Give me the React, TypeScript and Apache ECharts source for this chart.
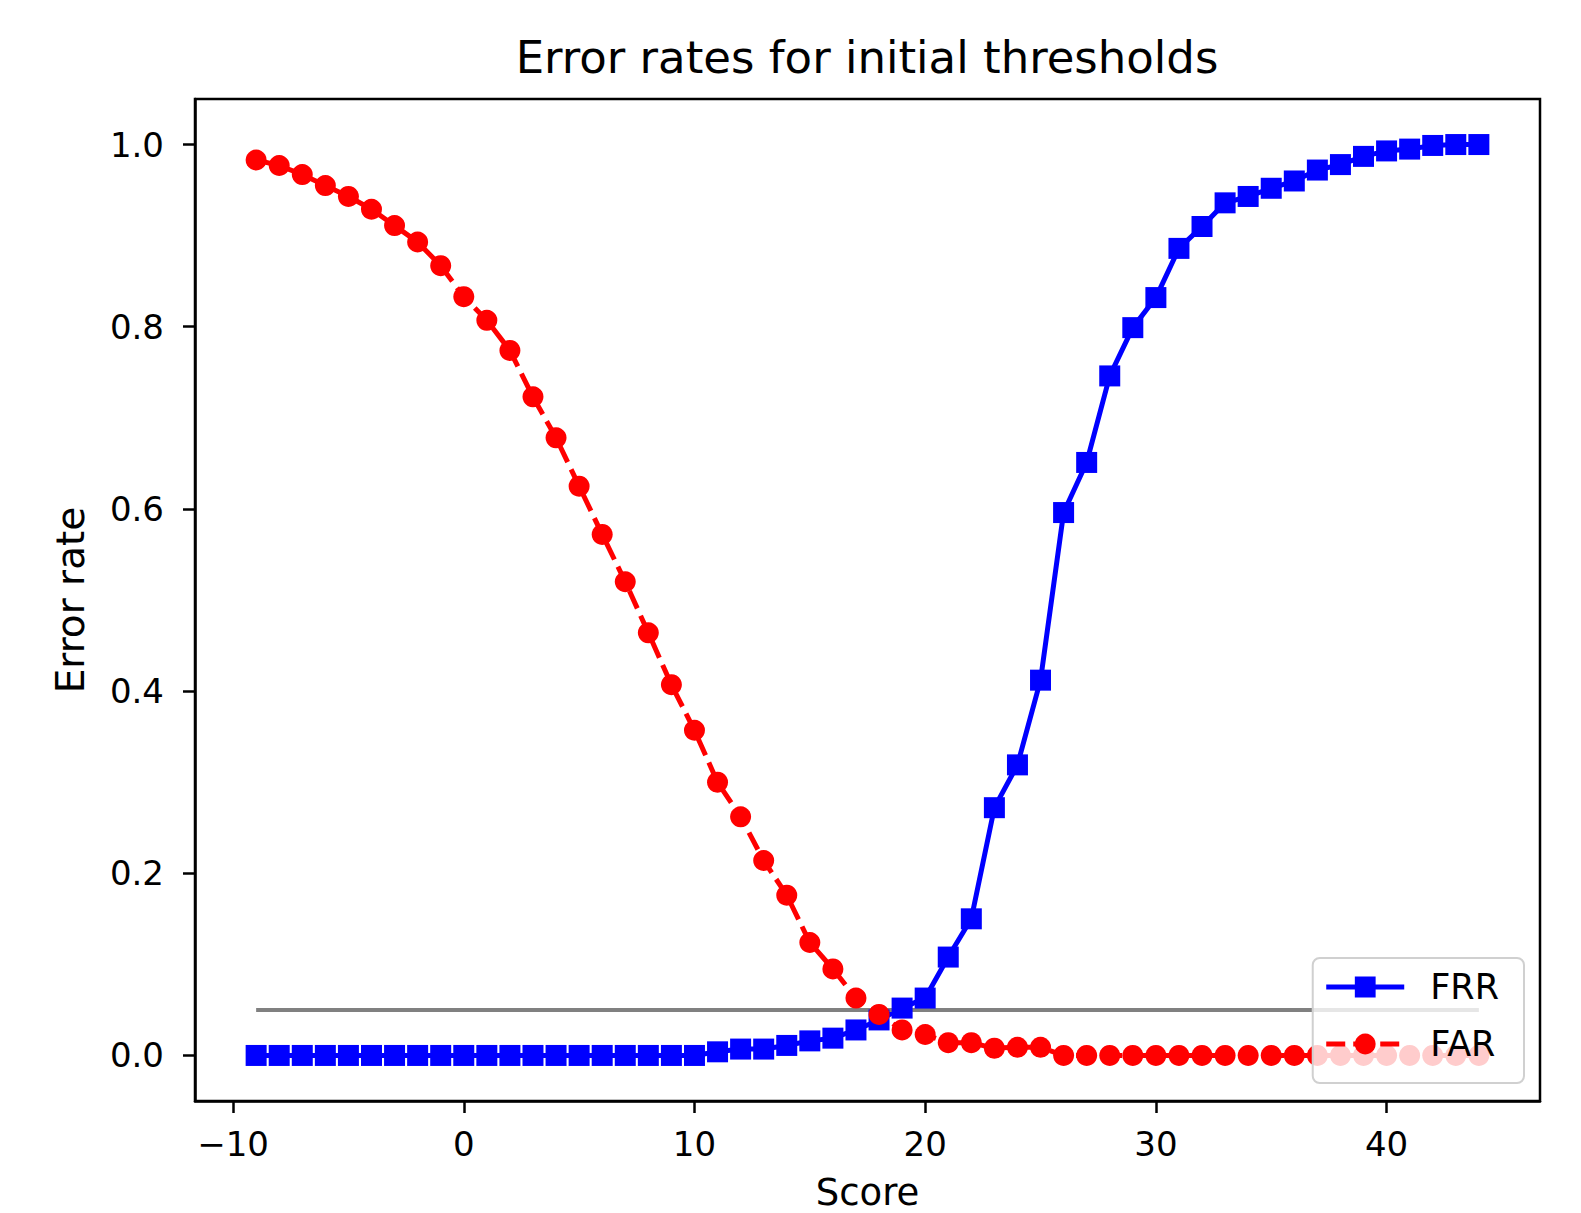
import React, { useEffect, useRef } from "react";
import * as echarts from "echarts";

const scores = [
  -9, -8, -7, -6, -5, -4, -3, -2, -1, 0, 1, 2, 3, 4, 5, 6, 7, 8, 9, 10, 11, 12,
  13, 14, 15, 16, 17, 18, 19, 20, 21, 22, 23, 24, 25, 26, 27, 28, 29, 30, 31,
  32, 33, 34, 35, 36, 37, 38, 39, 40, 41, 42, 43, 44,
];

const frr = [
  0, 0, 0, 0, 0, 0, 0, 0, 0, 0, 0, 0, 0, 0, 0, 0, 0, 0, 0, 0, 0.004, 0.007,
  0.007, 0.011, 0.016, 0.019, 0.028, 0.039, 0.052, 0.063, 0.108, 0.15, 0.272,
  0.319, 0.412, 0.596, 0.651, 0.746, 0.799, 0.832, 0.886, 0.91, 0.936, 0.943,
  0.952, 0.96, 0.972, 0.978, 0.987, 0.993, 0.995, 0.999, 1.0, 1.0,
];

const far = [
  0.983, 0.977, 0.967, 0.955, 0.943, 0.929, 0.911, 0.893, 0.867, 0.833, 0.807,
  0.774, 0.723, 0.678, 0.625, 0.572, 0.52, 0.464, 0.407, 0.357, 0.3, 0.262,
  0.214, 0.176, 0.124, 0.095, 0.063, 0.045, 0.028, 0.023, 0.014, 0.014, 0.008,
  0.009, 0.009, 0, 0, 0, 0, 0, 0, 0, 0, 0, 0, 0, 0, 0, 0, 0, 0, 0, 0, 0,
];

const thresholdValue = 0.05;
const thresholdRange = [-9, 44];

const xTicks = [-10, 0, 10, 20, 30, 40];
const yTicks = [0, 0.2, 0.4, 0.6, 0.8, 1.0];

const FONT = "DejaVu Sans";

export default function App() {
  const ref = useRef<HTMLDivElement>(null);

  useEffect(() => {
    if (!ref.current) return;
    const chart = echarts.init(ref.current, null, { renderer: "svg" });
    const option = {
      animation: false,
      backgroundColor: "#ffffff",
      title: {
        text: "Error rates for initial thresholds",
        left: 862,
        top: 30,
        textAlign: "center",
        textStyle: {
          fontFamily: FONT,
          fontSize: 45,
          fontWeight: "normal",
          color: "#000",
        },
      },
      grid: {
        left: 195,
        top: 99,
        width: 1345,
        height: 1002,
        show: true,
        borderColor: "#000",
        borderWidth: 2.5,
        backgroundColor: "transparent",
        containLabel: false,
        outerBoundsMode: "none",
      },
      legend: {
        data: ["FRR", "FAR"],
        orient: "vertical",
        right: 57,
        bottom: 130,
        backgroundColor: "rgba(255,255,255,0.8)",
        borderColor: "#d0d0d0",
        borderWidth: 2,
        borderRadius: 7,
        padding: [9, 25, 19, 11],
        itemWidth: 78,
        itemHeight: 26,
        itemGap: 17,
        lineStyle: { width: 5 },
        textStyle: {
          fontFamily: FONT,
          fontSize: 35,
          color: "#000",
          lineHeight: 40,
          padding: [0, 0, 0, 21],
        },
      },
      xAxis: {
        type: "value",
        min: -11.65,
        max: 46.65,
        name: "Score",
        nameLocation: "middle",
        nameGap: 76,
        nameTextStyle: { fontFamily: FONT, fontSize: 37, color: "#000", lineHeight: 30 },
        splitLine: { show: false },
        axisLine: { show: true, onZero: false, lineStyle: { color: "#000", width: 2.5 } },
        axisTick: {
          show: true,
          length: 12,
          customValues: xTicks,
          lineStyle: { color: "#000", width: 2.5 },
        },
        axisLabel: {
          customValues: xTicks,
          margin: 26,
          fontFamily: FONT,
          fontSize: 34,
          color: "#000",
          formatter: (v: number) => String(v).replace("-", "\u2212"),
        },
      },
      yAxis: {
        type: "value",
        min: -0.05,
        max: 1.05,
        name: "Error rate",
        nameLocation: "middle",
        nameGap: 105,
        nameTextStyle: { fontFamily: FONT, fontSize: 39, color: "#000" },
        splitLine: { show: false },
        axisLine: { show: true, onZero: false, lineStyle: { color: "#000", width: 2.5 } },
        axisTick: {
          show: true,
          length: 12,
          customValues: yTicks,
          lineStyle: { color: "#000", width: 2.5 },
        },
        axisLabel: {
          customValues: yTicks,
          margin: 31,
          fontFamily: FONT,
          fontSize: 34,
          color: "#000",
          formatter: (v: number) => v.toFixed(1),
        },
      },
      series: [
        {
          name: "FRR",
          type: "line",
          data: scores.map((s, i) => [s, frr[i]]),
          symbol: "rect",
          symbolSize: 21,
          color: "#0000ff",
          itemStyle: { color: "#0000ff" },
          lineStyle: { color: "#0000ff", width: 5 },
        },
        {
          name: "FAR",
          type: "line",
          data: scores.map((s, i) => [s, far[i]]),
          symbol: "circle",
          symbolSize: 21,
          color: "#ff0000",
          itemStyle: { color: "#ff0000" },
          lineStyle: { color: "#ff0000", width: 5, type: [19, 8] },
        },
        {
          name: "threshold",
          type: "line",
          data: thresholdRange.map((s) => [s, thresholdValue]),
          symbol: "none",
          color: "#808080",
          lineStyle: { color: "#808080", width: 4 },
        },
      ],
    };
    chart.setOption(option);
    return () => chart.dispose();
  }, []);

  return (
    <div
      ref={ref}
      style={{ position: "absolute", left: 0, top: 0, width: 1581, height: 1213 }}
    />
  );
}
